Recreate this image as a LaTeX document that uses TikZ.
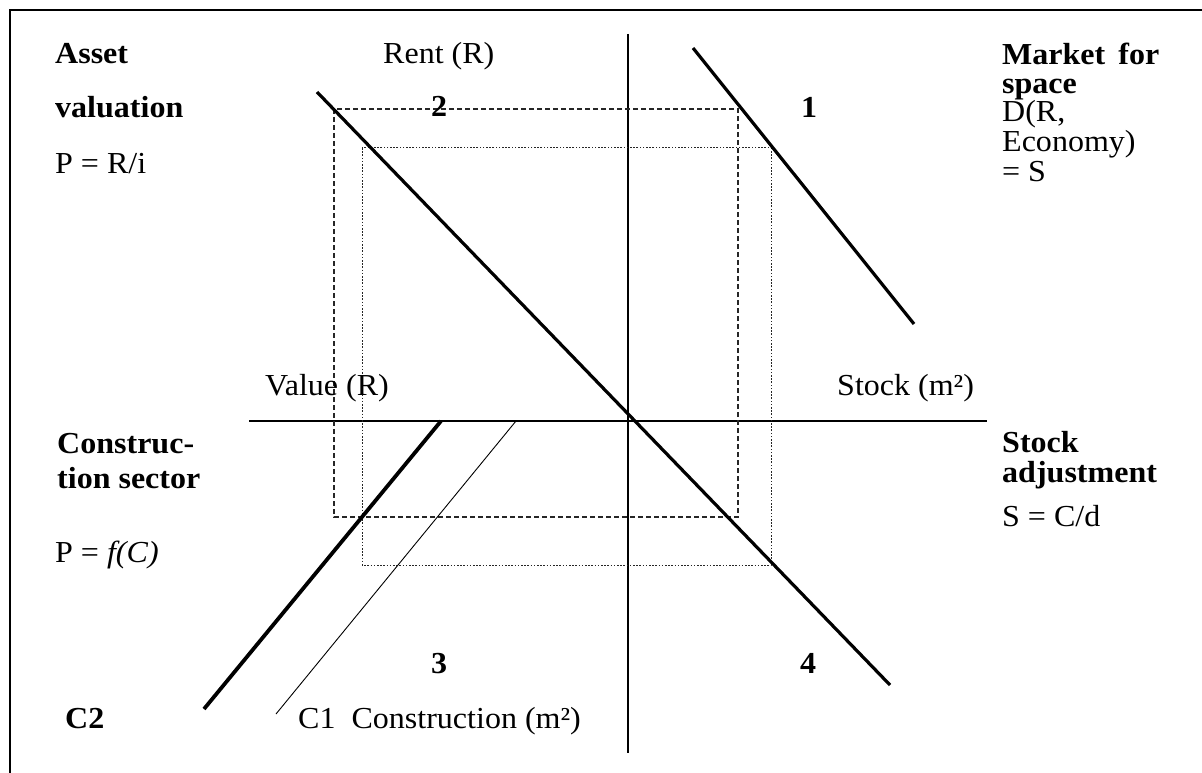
\documentclass[tikz,border=0pt]{standalone}
\usepackage{fontspec}
\setmainfont{Liberation Serif}[FakeStretch=1.05]
\usetikzlibrary{positioning}

\begin{document}
\begin{tikzpicture}[x=1pt, y=-1pt,
        txt/.style={inner sep=0pt, anchor=base west, font=\fontsize{30.5}{30}\selectfont},
        hd/.style={inner sep=0pt, anchor=base west, font=\fontsize{30.5}{30}\selectfont\bfseries},
        curve/.style={line width=3.2pt},
        guide/.style={black!85, line width=1.2pt, dash pattern=on 5pt off 3pt},
        guide2/.style={black!85, line width=1pt, dash pattern=on 1.6pt off 1.6pt}]
        \useasboundingbox (0,0) rectangle (1202,773);
        \def\ox{628}
        \def\oy{421}

        % -- frame, cut off at the right and bottom edge --
        \draw[line width=2pt] (10,10) rectangle (1220,790);

        % -- axes --
        \coordinate (rtop) at (\ox,34);
        \coordinate (rbot) at (\ox,753);
        \coordinate (vleft) at (249,\oy);
        \coordinate (sright) at (987,\oy);
        \draw[line width=2.3pt] (rtop) -- (rbot);
        \draw[line width=2.3pt] (vleft) -- (sright);

        % -- the two guide rectangles (old and new equilibrium) --
        \draw[guide] (334,109) rectangle (738,517);
        \draw[guide2] (362,148) rectangle (771,565);

        % -- quadrant curves --
        \coordinate (d1) at (693,48);
        \coordinate (d2) at (914,324);
        \draw[curve] (d1) -- (d2);

        \coordinate (p1) at (317,92);
        \coordinate (p2) at (890,685);
        \draw[curve] (p1) -- (p2);

        \coordinate (cA) at (441,\oy);
        \coordinate (cB) at (204,709);
        \draw[line width=3.8pt] (cA) -- (cB);

        \coordinate (cC) at (516,\oy);
        \coordinate (cD) at (276,714);
        \draw[line width=0.9pt] (cC) -- (cD);

        % -- axis labels --
        \node[txt] (rent)  at (383,64)  {Rent (R)};
        \node[txt] (value) at (265,395) {Value (R)};
        \node[txt] (stock) at (837,395) {Stock (m²)};
        \node[txt] (constr) at (298,728) {C1\hspace{8pt} Construction (m²)};
        \node[hd]  (ctwo)  at (65,728)  {C2};

        % -- quadrant numbers --
        \node[hd] (q1) at (801,118) {1};
        \node[hd] (q2) at (431,117) {2};
        \node[hd] (q3) at (431,673) {3};
        \node[hd] (q4) at (800,673) {4};

        % -- top left: asset valuation --
        \node[hd]  (av1) at (55,64)  {Asset};
        \node[hd]  (av2) at (55,118) {valuation};
        \node[txt] (av3) at (55,174) {P = R/i};

        % -- top right: market for space --
        \node[hd]  (ms1) at (1002,65)  {Market\hspace{5pt} for};
        \node[hd]  (ms2) at (1002,94)  {space};
        \node[txt] (ms3) at (1002,122) {D(R,};
        \node[txt] (ms4) at (1002,152) {Economy)};
        \node[txt] (ms5) at (1002,182) {= S};

        % -- bottom left: construction sector --
        \node[hd]  (cs1) at (57,453) {Construc-};
        \node[hd]  (cs2) at (57,488) {tion sector};
        \node[txt] (cs3) at (55,562) {P = \textit{f(C)}};

        % -- bottom right: stock adjustment --
        \node[hd]  (sa1) at (1002,452) {Stock};
        \node[hd]  (sa2) at (1002,482) {adjustment};
        \node[txt] (sa3) at (1002,526) {S = C/d};

    \end{tikzpicture}
\end{document}
